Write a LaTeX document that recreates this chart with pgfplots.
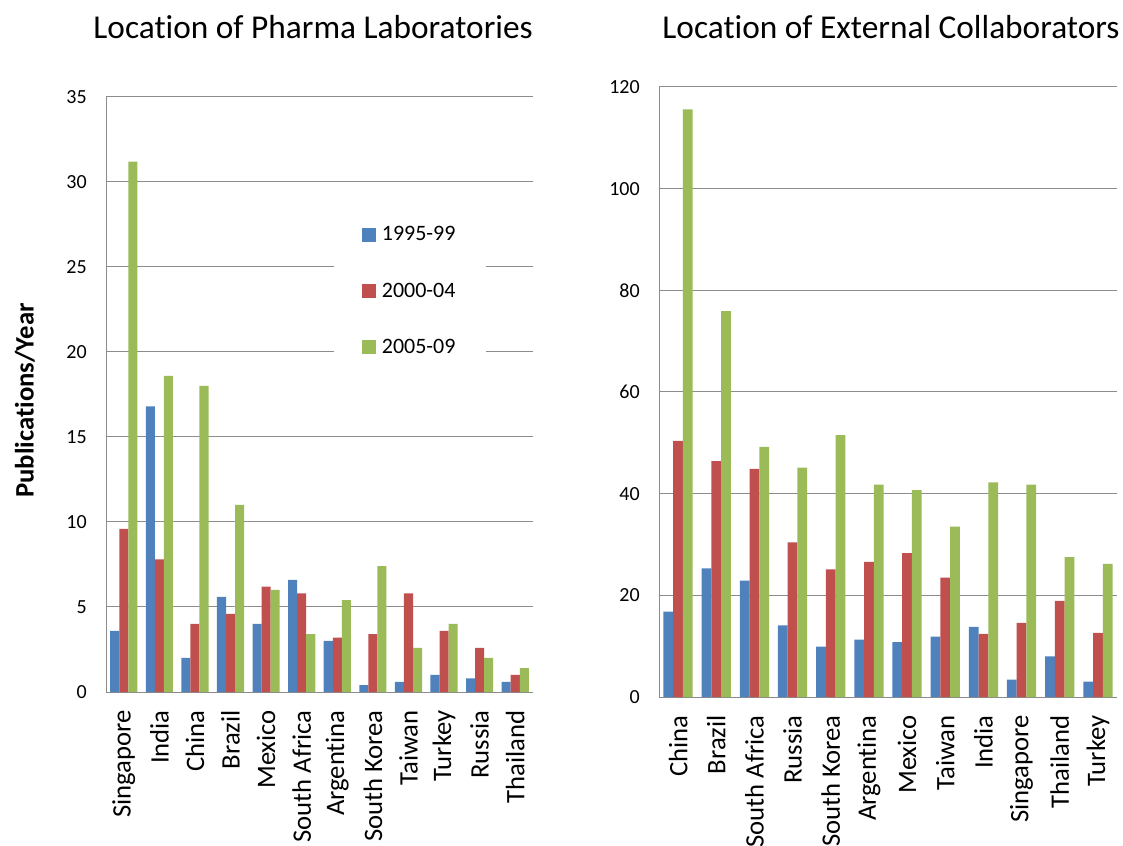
\documentclass[border=0pt]{standalone}
\usepackage{pgfplots}
\pgfplotsset{compat=1.18}
\usepackage{pgfplotstable}
\usepackage{fontspec}
\setmainfont{Carlito}[Ligatures=NoCommon]
\definecolor{cblue}{HTML}{4F81BD}
\definecolor{cred}{HTML}{C0504D}
\definecolor{cgreen}{HTML}{9BBB59}
\definecolor{gridgray}{HTML}{8C8C8C}

% Location of Pharma Laboratories
\pgfplotstableread{
idx a b c
0 3.6 9.6 31.2
1 16.8 7.8 18.6
2 2.0 4.0 18.0
3 5.6 4.6 11.0
4 4.0 6.2 6.0
5 6.6 5.8 3.4
6 3.0 3.2 5.4
7 0.4 3.4 7.4
8 0.6 5.8 2.6
9 1.0 3.6 4.0
10 0.8 2.6 2.0
11 0.6 1.0 1.4
}\pharma

% Location of External Collaborators
\pgfplotstableread{
idx a b c
0 16.8 50.4 115.6
1 25.3 46.4 75.9
2 22.9 44.9 49.2
3 14.1 30.4 45.1
4 9.9 25.1 51.5
5 11.3 26.6 41.8
6 10.8 28.3 40.7
7 11.9 23.5 33.5
8 13.8 12.4 42.2
9 3.4 14.6 41.8
10 8.0 18.9 27.5
11 3.0 12.6 26.2
}\extcol

\pgfplotsset{
  mybars/.style={
    ybar, scale only axis, anchor=south west,
    bar width=0.255,
    ymin=0, xmin=-0.5, xmax=11.5, xtick={0,...,11},
    axis x line*=bottom, axis y line*=left,
    axis line style={gridgray, line width=0.75pt},
    ymajorgrids, grid style={gridgray, line width=0.75pt},
    major tick length=0pt, tick style={draw=none},
    /pgf/number format/assume math mode=true,
    yticklabel style={font=\fontsize{15}{18}\selectfont, anchor=east, inner xsep=14.25pt, inner ysep=0pt},
    xticklabel style={font=\fontsize{20}{24}\selectfont, rotate=90, anchor=east, inner xsep=13.5pt, inner ysep=0pt},
    title style={font=\fontsize{25}{30}\selectfont, anchor=base},
  }
}

\begin{document}
\begin{tikzpicture}
\path[use as bounding box] (0pt,0pt) rectangle (842.25pt,633.75pt);

\begin{axis}[mybars,
  at={(79.5pt,114.75pt)}, width=320.25pt, height=446.25pt,
  ymax=35, ytick={0,5,...,35},
  xticklabels={Singapore,India,China,Brazil,Mexico,South Africa,Argentina,South Korea,Taiwan,Turkey,Russia,Thailand},
  title={Location of Pharma Laboratories},
  title style={at={(rel axis cs:0.485,1)}, yshift=37.5pt},
  ylabel={Publications/Year},
  ylabel style={at={(rel axis cs:-0.19,0.49)}, anchor=center, font=\bfseries\fontsize{20}{24}\selectfont},
  legend style={at={(rel axis cs:0.712,0.674)}, anchor=center, draw=none, fill=white,
    font=\fontsize{16.5}{19}\selectfont, row sep=26pt, inner xsep=21pt, inner ysep=14pt},
  legend cell align=left,
  legend image code/.code={\fill[#1] (0pt,-5.25pt) rectangle (10.5pt,5.25pt); \path (13pt,0pt);},
]
\addplot[fill=cblue, draw=none, bar shift=-0.255] table[x=idx,y=a]{\pharma};
\addplot[fill=cred, draw=none, bar shift=0] table[x=idx,y=b]{\pharma};
\addplot[fill=cgreen, draw=none, bar shift=0.255] table[x=idx,y=c]{\pharma};
\legend{1995-99,2000-04,2005-09}
\end{axis}

\begin{axis}[mybars,
  at={(494.25pt,111pt)}, width=343.5pt, height=457.5pt,
  ymax=120, ytick={0,20,...,120},
  xticklabels={China,Brazil,South Africa,Russia,South Korea,Argentina,Mexico,Taiwan,India,Singapore,Thailand,Turkey},
  title={Location of External Collaborators},
  title style={at={(rel axis cs:0.5066,1)}, yshift=30pt},
]
\addplot[fill=cblue, draw=none, bar shift=-0.255] table[x=idx,y=a]{\extcol};
\addplot[fill=cred, draw=none, bar shift=0] table[x=idx,y=b]{\extcol};
\addplot[fill=cgreen, draw=none, bar shift=0.255] table[x=idx,y=c]{\extcol};
\end{axis}
\end{tikzpicture}
\end{document}
